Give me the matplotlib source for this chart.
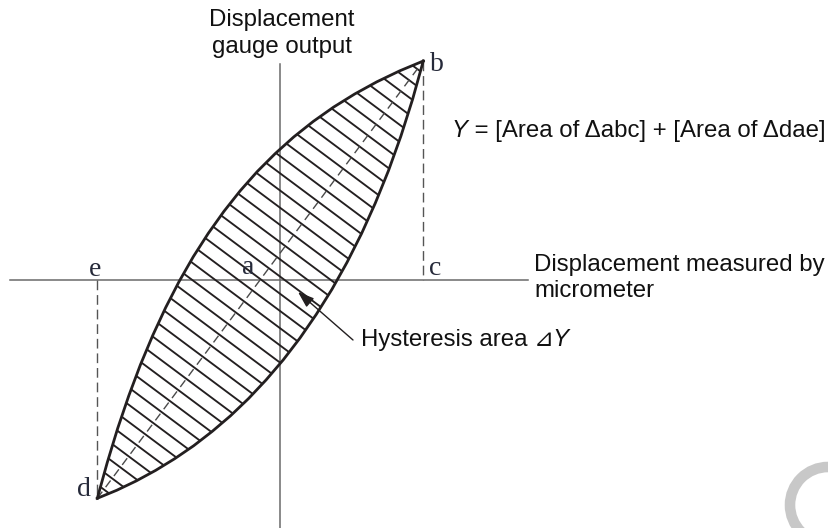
import numpy as np
import matplotlib
matplotlib.use("Agg")
import matplotlib.pyplot as plt
from matplotlib.patches import Polygon, Circle

# Loading (upper) branch of the loop, from d to b
upper_x = [-182.7, -172.7, -162.3, -151.2, -139.6, -127.3, -114.4, -100.9, -86.7, -71.7,
           -56.1, -39.8, -22.7, -4.8, 13.8, 33.3, 53.6, 74.7, 96.7, 119.6, 143.3]
upper_y = [-218.3, -182.4, -148.3, -115.7, -84.8, -55.5, -27.7, -1.5, 23.3, 46.7,
           68.6, 89.2, 108.5, 126.4, 143.1, 158.6, 172.9, 186.0, 198.1, 209.1, 219.0]

# Unloading (lower) branch of the loop, from d to b
lower_x = [-182.7, -163.1, -143.7, -124.4, -105.3, -86.4, -67.8, -49.5, -31.5, -13.9,
           3.3, 20.0, 36.2, 51.9, 67.0, 81.5, 95.3, 108.5, 120.9, 132.5, 143.3]
lower_y = [-218.3, -210.2, -200.9, -190.4, -178.7, -165.8, -151.4, -135.8, -118.6, -99.9,
           -79.8, -58.0, -34.5, -9.4, 17.6, 46.3, 76.9, 109.4, 143.9, 180.4, 219.0]

x_axis_label = ["Displacement measured by", "micrometer"]
y_axis_label = ["Displacement", "gauge output"]
formula_rest = " = [Area of \u0394abc] + [Area of \u0394dae]"
hysteresis_label = "Hysteresis area "

INK = "#231f20"
AXIS = "#6a6a6a"
LETTER = "#262a3a"
SANS = ["Liberation Sans", "DejaVu Sans"]
SERIF = ["Liberation Serif", "DejaVu Serif"]

fig = plt.figure(figsize=(8.29, 5.28), dpi=100)
ax = fig.add_axes([0, 0, 1, 1])
ax.set_xlim(-280, 549)
ax.set_ylim(-248, 280)
ax.axis("off")

# coordinate axes
ax.plot([-270, 248], [0, 0], color=AXIS, lw=1.1, zorder=1)
ax.plot([0, 0], [216, -248], color=AXIS, lw=1.1, zorder=1)

d = np.array([upper_x[0], upper_y[0]], float)
b = np.array([upper_x[-1], upper_y[-1]], float)

# loop outline used as the clip region for the hatching
loop_xy = np.column_stack([upper_x + lower_x[::-1], upper_y + lower_y[::-1]])
loop = Polygon(loop_xy, closed=True, fill=False, edgecolor="none")
ax.add_patch(loop)

# hatching perpendicular to the diagonal d-b
diag = b - d
length = np.hypot(*diag)
u = diag / length
n = np.array([u[1], -u[0]])
for s in np.arange(11, length, 13.8):
    c0 = d + s * u
    p0, p1 = c0 - 320 * n, c0 + 320 * n
    ln, = ax.plot([p0[0], p1[0]], [p0[1], p1[1]], color=INK, lw=1.35, zorder=2,
                  solid_capstyle="butt")
    ln.set_clip_path(loop)

# dashed diagonal and projections
ax.plot([d[0], b[0]], [d[1], b[1]], color="#4a4a4a", lw=1.0, ls=(0, (6, 4)), zorder=3)
ax.plot([b[0], b[0]], [b[1], 0], color="#555555", lw=1.0, ls=(0, (7, 3.5)), zorder=1)
ax.plot([d[0], d[0]], [0, d[1]], color="#555555", lw=1.0, ls=(0, (7, 3.5)), zorder=1)

# loop branches
ax.plot(upper_x, upper_y, color=INK, lw=2.0, zorder=4, solid_joinstyle="round")
ax.plot(lower_x, lower_y, color=INK, lw=2.0, zorder=4, solid_joinstyle="round")

# point letters
letter_kw = dict(family=SERIF, fontsize=20, color=LETTER, va="baseline", ha="left")
ax.text(b[0] + 7, b[1] - 10, "b", **letter_kw)
ax.text(b[0] + 6, 5, "c", **letter_kw)
ax.text(d[0] - 8, 4, "e", **letter_kw)
ax.text(d[0] - 20, d[1] + 2, "d", **letter_kw)
ax.text(-38, 5.5, "a", **letter_kw)

# axis titles
txt_kw = dict(family=SANS, fontsize=17.3, color="#111111", va="baseline")
ax.text(2, 254, y_axis_label[0], ha="center", **txt_kw)
ax.text(2, 227, y_axis_label[1], ha="center", **txt_kw)
ax.text(254, 9, x_axis_label[0], ha="left", **txt_kw)
ax.text(254, -17, x_axis_label[1], ha="left", **txt_kw)

# formula with italic Y
ty = ax.text(172, 143, "Y", ha="left", style="italic", **txt_kw)
ax.annotate(formula_rest, xy=(1, 0), xycoords=ty, ha="left", va="bottom",
            family=SANS, fontsize=17.3, color="#111111")

# hysteresis callout
th = ax.text(81, -66, hysteresis_label, ha="left", **txt_kw)
ax.annotate("\u22bfY", xy=(1, 0), xycoords=th, ha="left", va="bottom",
            family=SANS, fontsize=17.3, style="italic", color="#111111")
ax.annotate("", xy=(18, -12), xytext=(73, -60),
            arrowprops=dict(arrowstyle="-|>,head_length=0.7,head_width=0.25",
                            color=INK, lw=1.0, shrinkA=0, shrinkB=0, mutation_scale=14))

# faint ring in the lower right corner
ax.add_patch(Circle((548, -225), 38, fill=False, lw=7.6, ec="#c8c8c8", zorder=0))

fig.savefig("out.png", dpi=100)
